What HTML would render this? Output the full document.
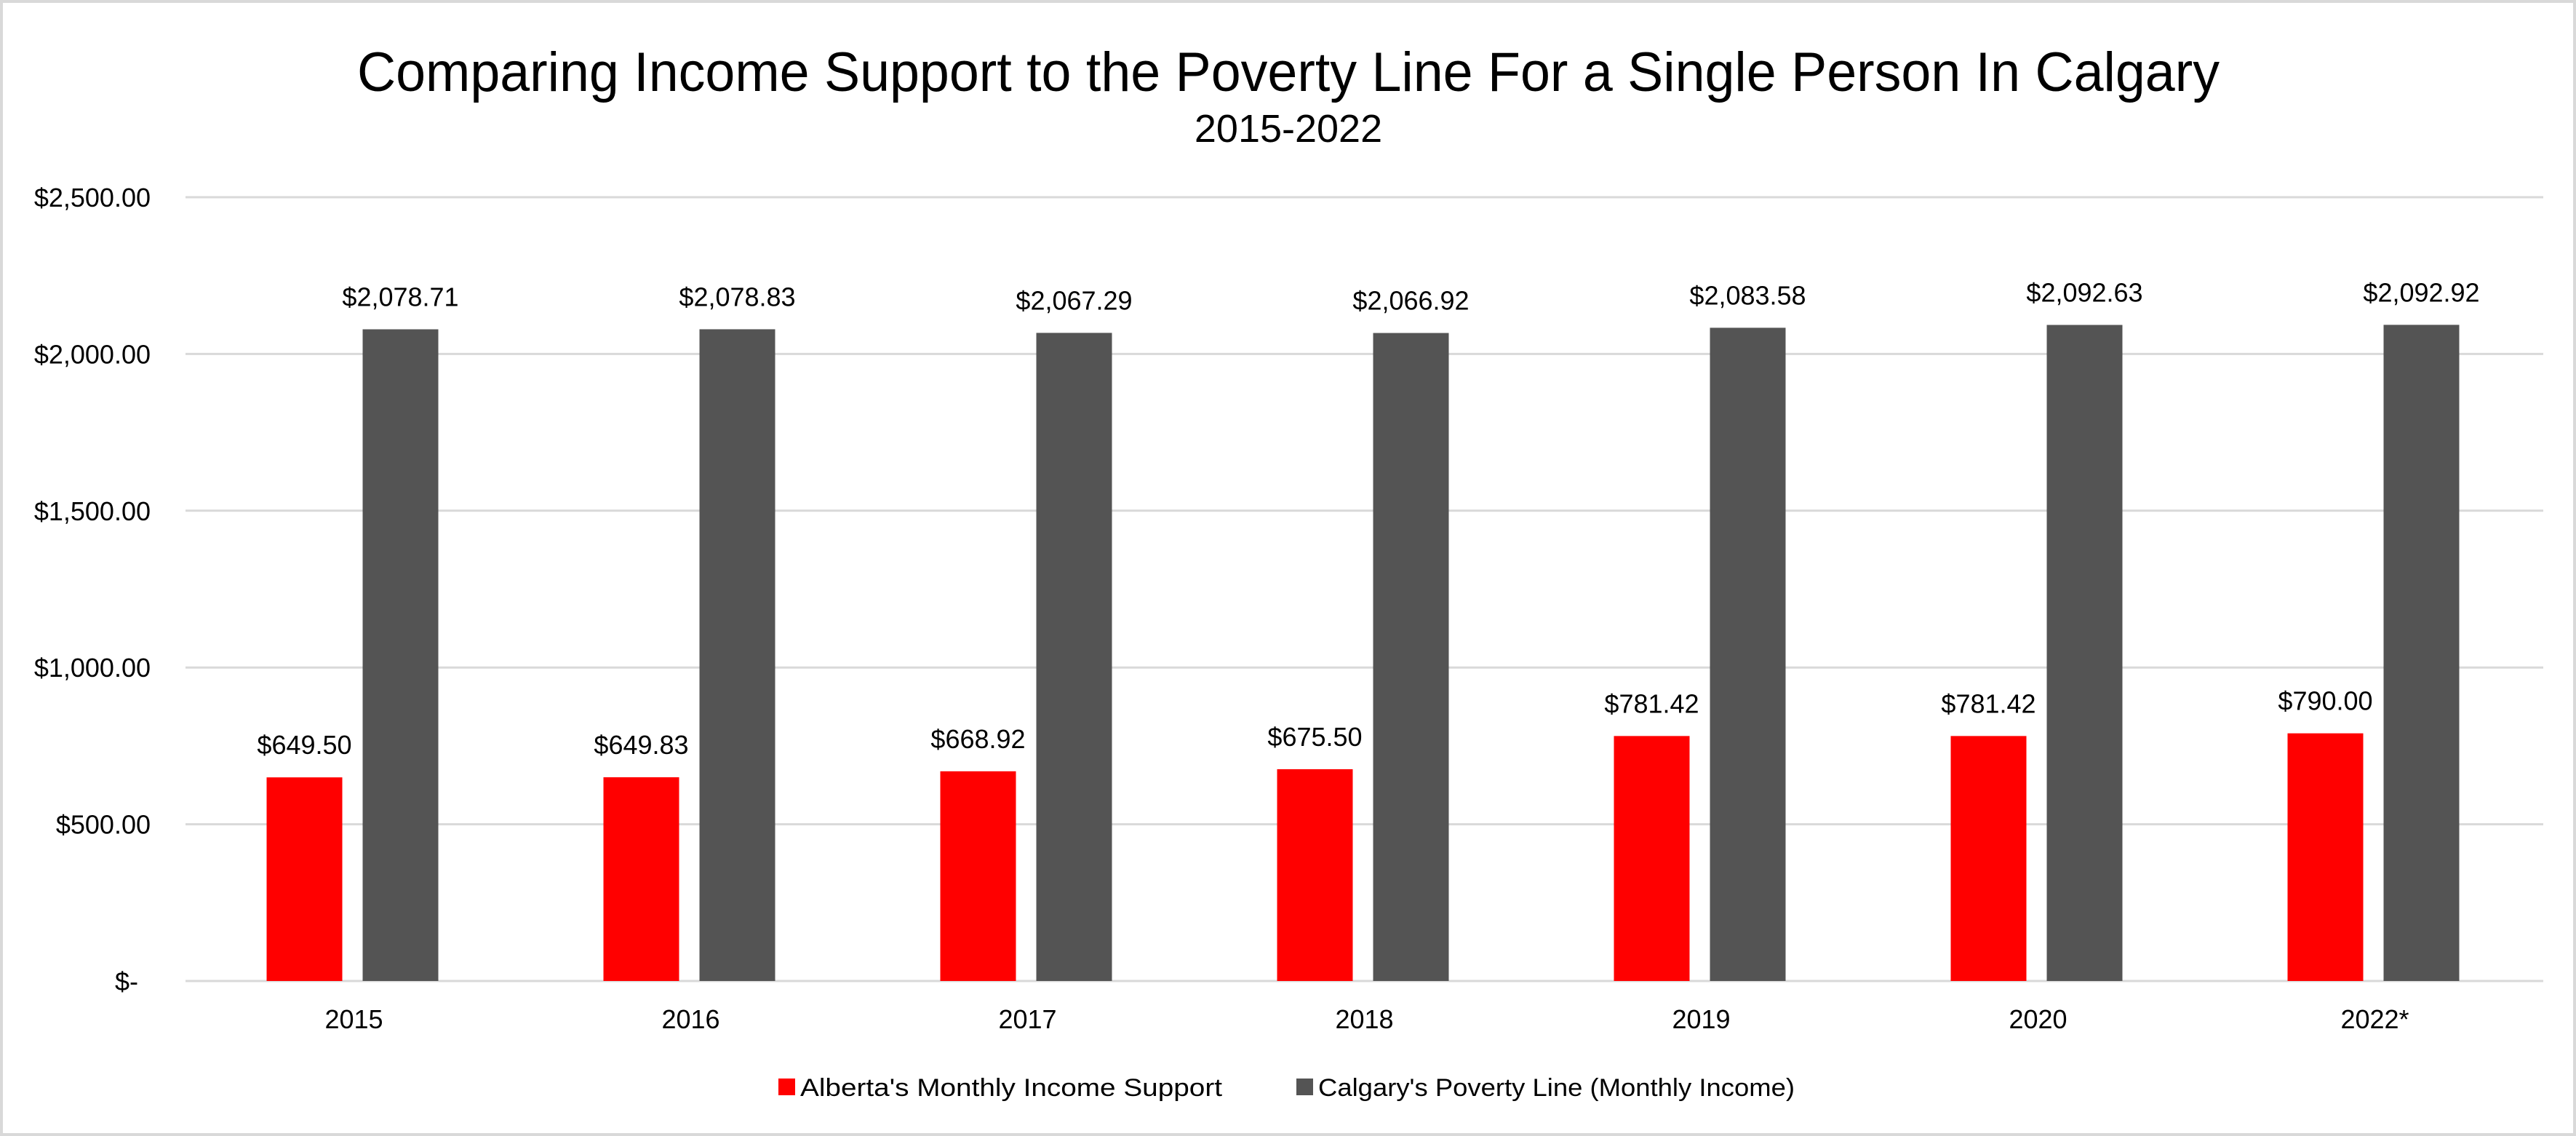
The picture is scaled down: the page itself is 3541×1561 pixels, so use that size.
<!DOCTYPE html>
<html><head><meta charset="utf-8"><style>
html,body{margin:0;padding:0;background:#fff}
svg{display:block;font-family:"Liberation Sans",sans-serif}
</style></head><body>
<svg id="chart" width="3541" height="1561" viewBox="0 0 3541 1561">
<rect x="2" y="2" width="3537" height="1557" fill="#fff" stroke="#d9d9d9" stroke-width="4"/>
<text x="1771" y="125" text-anchor="middle" font-size="76" textLength="2560" lengthAdjust="spacingAndGlyphs">Comparing Income Support to the Poverty Line For a Single Person In Calgary</text>
<text x="1771" y="195" text-anchor="middle" font-size="54">2015-2022</text>
<g id="grid"></g><g id="bars"></g><g id="labels"></g>
<g>
<rect x="1070" y="1482" width="23" height="23" fill="#ff0000"/>
<text x="1100" y="1506" font-size="34" textLength="580" lengthAdjust="spacingAndGlyphs">Alberta's Monthly Income Support</text>
<rect x="1782" y="1482" width="23" height="23" fill="#545454"/>
<text x="1812" y="1506" font-size="34" textLength="655" lengthAdjust="spacingAndGlyphs">Calgary's Poverty Line (Monthly Income)</text>
</g>
</svg>
<script>
const categories=["2015","2016","2017","2018","2019","2020","2022*"];
const incomeSupport=[649.50,649.83,668.92,675.50,781.42,781.42,790.00];
const povertyLine=[2078.71,2078.83,2067.29,2066.92,2083.58,2092.63,2092.92];
const yTicks=[0,500,1000,1500,2000,2500];
const yTickLabels=["$-","$500.00","$1,000.00","$1,500.00","$2,000.00","$2,500.00"];
const NS="http://www.w3.org/2000/svg";
const L=255,R=3496,T=271,B=1348,yMax=2500;
const y=v=>B-(v/yMax)*(B-T);
const bw=(R-L)/categories.length;
const xc=i=>L+bw*(i+0.5);
function mk(tag,attrs,parent,txt){const e=document.createElementNS(NS,tag);for(const k in attrs)e.setAttribute(k,attrs[k]);if(txt!==undefined)e.textContent=txt;parent.appendChild(e);return e;}
const grid=document.getElementById('grid'),bars=document.getElementById('bars'),labels=document.getElementById('labels');
const fmt=v=>"$"+v.toLocaleString("en-US",{minimumFractionDigits:2,maximumFractionDigits:2});
yTicks.forEach((t,i)=>{
 const g=mk('line',{x1:L,x2:R,y1:y(t),y2:y(t),stroke:'#d9d9d9','stroke-width':3},grid);
 
 
 const tx=mk('text',{x:i===0?190:207,y:y(t)+13,'text-anchor':'end','font-size':36},labels,yTickLabels[i]);
 
 
});
categories.forEach((c,i)=>{
 const cx=xc(i);
 const r=mk('rect',{x:cx-120,y:y(incomeSupport[i]),width:104,height:B-y(incomeSupport[i]),fill:'#ff0000'},bars);
 
 
 const g=mk('rect',{x:cx+12,y:y(povertyLine[i]),width:104,height:B-y(povertyLine[i]),fill:'#545454'},bars);
 
 
 const l1=mk('text',{x:cx-68,y:y(incomeSupport[i])-32,'text-anchor':'middle','font-size':36},labels,fmt(incomeSupport[i]));
 
 
 const l2=mk('text',{x:cx+64,y:y(povertyLine[i])-32,'text-anchor':'middle','font-size':36},labels,fmt(povertyLine[i]));
 
 
 const xl=mk('text',{x:cx,y:1413,'text-anchor':'middle','font-size':36},labels,c);
 
 
});
</script>
</body></html>
